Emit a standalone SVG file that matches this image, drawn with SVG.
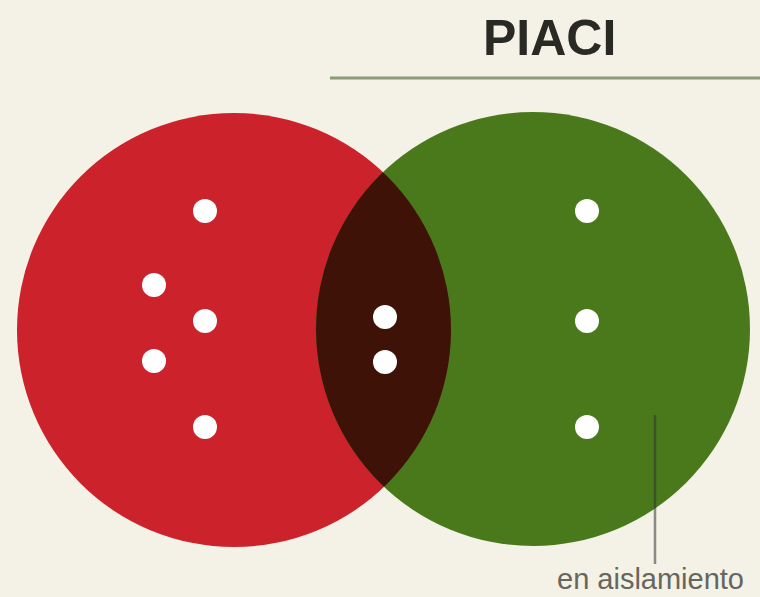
<svg xmlns="http://www.w3.org/2000/svg" width="760" height="597" viewBox="0 0 760 597">
  <defs>
    <style>
      .dot { fill: #ffffff; }
      .title { font-family: "Liberation Sans", Arial, sans-serif; font-weight: bold; font-size: 50px; fill: #2a2a24; }
      .label { font-family: "Liberation Sans", Arial, sans-serif; font-size: 29px; fill: #666660; }
    </style>
    <clipPath id="redClip">
      <circle cx="234" cy="330" r="217"/>
    </clipPath>
  </defs>
  <rect width="760" height="597" fill="#f4f1e6"/>

  <g id="title">
    <text class="title" x="483" y="55">PIACI</text>
    <line x1="330" y1="78" x2="760" y2="78" stroke="#8c9a78" stroke-width="3"/>
  </g>

  <g id="set-red">
    <circle cx="234" cy="330" r="217" fill="#cc222b"/>
    <circle class="dot" cx="205" cy="211" r="12"/>
    <circle class="dot" cx="154" cy="285" r="12"/>
    <circle class="dot" cx="205" cy="321" r="12"/>
    <circle class="dot" cx="154" cy="361" r="12"/>
    <circle class="dot" cx="205" cy="427" r="12"/>
  </g>

  <g id="set-green">
    <circle cx="533" cy="329" r="217" fill="#4a791c"/>
    <circle class="dot" cx="587" cy="211" r="12"/>
    <circle class="dot" cx="587" cy="321" r="12"/>
    <circle class="dot" cx="587" cy="427" r="12"/>
  </g>

  <g id="intersection">
    <circle cx="533" cy="329" r="217" fill="#3e1206" clip-path="url(#redClip)"/>
    <circle class="dot" cx="385" cy="317" r="12"/>
    <circle class="dot" cx="385" cy="362" r="12"/>
  </g>

  <g id="connectors">
    <line x1="655" y1="415" x2="655" y2="564" stroke="#333333" stroke-opacity="0.55" stroke-width="2.5"/>
  </g>

  <g id="label-aislamiento">
    <text class="label" x="557" y="589">en aislamiento</text>
  </g>
</svg>
